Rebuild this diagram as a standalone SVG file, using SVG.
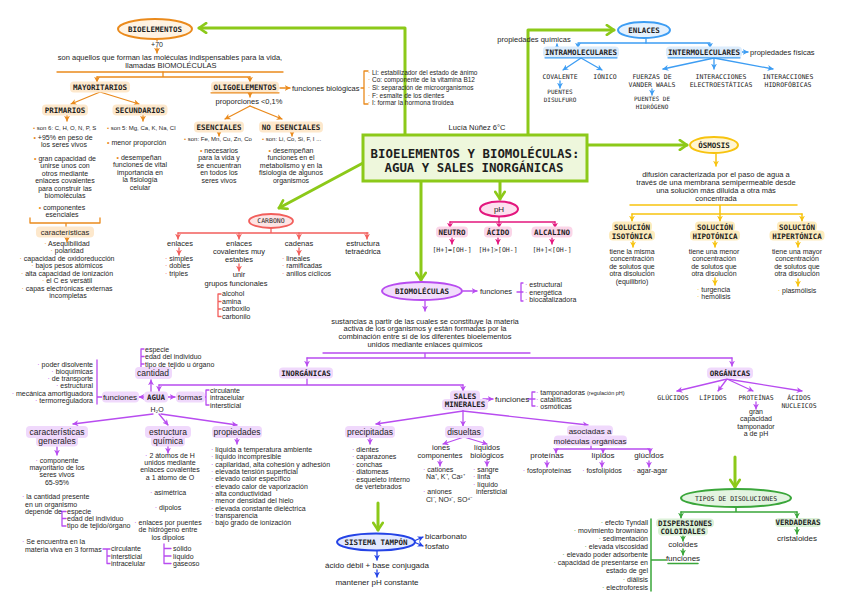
<svg xmlns="http://www.w3.org/2000/svg" width="848" height="600" viewBox="0 0 848 600">
<style>
.t{font-family:"Liberation Sans",Arial,sans-serif;font-size:7px;fill:#1e1e1e}
.s6{font-size:6px}
.s65{font-size:6.5px}
.s75{font-size:7.5px}
.s8{font-size:8px}
.h{font-size:8.5px}
.k{font-family:"DejaVu Sans Mono",monospace;font-weight:bold;font-size:7.5px;fill:#1e1e1e}
.q{font-family:"DejaVu Sans Mono",monospace;font-size:6.5px;fill:#1e1e1e}
.qs{font-size:6px}
.ttl{font-family:"DejaVu Sans Mono",monospace;font-weight:bold;font-size:12.4px;fill:#1e1e1e}
.m{text-anchor:middle}
.e{text-anchor:end}
.lo,.lg,.lb,.ly,.lp,.lr,.lv,.ld,.le{fill:none;stroke-linecap:round;stroke-linejoin:round}
.lo{stroke:#ea8a1c;stroke-width:1.3}
.lg{stroke:#8cc919;stroke-width:3}
.lb{stroke:#3d9df3;stroke-width:1.3}
.ly{stroke:#f7c30f;stroke-width:1.5}
.lp{stroke:#e3177e;stroke-width:1.3}
.lr{stroke:#f25f5c;stroke-width:1.3}
.lv{stroke:#b84cf0;stroke-width:1.3}
.ld{stroke:#2443e6;stroke-width:1.3}
.le{stroke:#3aa63a;stroke-width:1.5}
.hO{fill:#fde8cc}.hB{fill:#dcecfc}.hY{fill:#fdecbd}.hP{fill:#fbd5e8}.hV{fill:#f0d9fc}.hE{fill:#dcf1d8}
.bO{fill:#ea8a1c}.bB{fill:#3d9df3}.bY{fill:#f7c30f}.bP{fill:#e3177e}.bR{fill:#f25f5c}.bV{fill:#b84cf0}.bE{fill:#3aa63a}
</style>
<defs>
<marker id="mO" viewBox="0 0 10 10" refX="9" refY="5" markerWidth="6" markerHeight="6" markerUnits="userSpaceOnUse" orient="auto"><path d="M0,0 L10,5 L0,10 L3,5 Z" fill="#ea8a1c"/></marker>
<marker id="mB" viewBox="0 0 10 10" refX="9" refY="5" markerWidth="6" markerHeight="6" markerUnits="userSpaceOnUse" orient="auto"><path d="M0,0 L10,5 L0,10 L3,5 Z" fill="#3d9df3"/></marker>
<marker id="mY" viewBox="0 0 10 10" refX="9" refY="5" markerWidth="6" markerHeight="6" markerUnits="userSpaceOnUse" orient="auto"><path d="M0,0 L10,5 L0,10 L3,5 Z" fill="#f7c30f"/></marker>
<marker id="mP" viewBox="0 0 10 10" refX="9" refY="5" markerWidth="6" markerHeight="6" markerUnits="userSpaceOnUse" orient="auto"><path d="M0,0 L10,5 L0,10 L3,5 Z" fill="#e3177e"/></marker>
<marker id="mR" viewBox="0 0 10 10" refX="9" refY="5" markerWidth="6" markerHeight="6" markerUnits="userSpaceOnUse" orient="auto"><path d="M0,0 L10,5 L0,10 L3,5 Z" fill="#f25f5c"/></marker>
<marker id="mV" viewBox="0 0 10 10" refX="9" refY="5" markerWidth="6" markerHeight="6" markerUnits="userSpaceOnUse" orient="auto"><path d="M0,0 L10,5 L0,10 L3,5 Z" fill="#b84cf0"/></marker>
<marker id="mD" viewBox="0 0 10 10" refX="9" refY="5" markerWidth="6" markerHeight="6" markerUnits="userSpaceOnUse" orient="auto"><path d="M0,0 L10,5 L0,10 L3,5 Z" fill="#2443e6"/></marker>
<marker id="mE" viewBox="0 0 10 10" refX="9" refY="5" markerWidth="6" markerHeight="6" markerUnits="userSpaceOnUse" orient="auto"><path d="M0,0 L10,5 L0,10 L3,5 Z" fill="#3aa63a"/></marker>
<marker id="mG" viewBox="0 0 10 10" refX="8" refY="5" markerWidth="12" markerHeight="12" markerUnits="userSpaceOnUse" orient="auto"><path d="M2,1 L8,5 L2,9" fill="none" stroke="#8cc919" stroke-width="2.2" stroke-linecap="round" stroke-linejoin="round"/></marker>
</defs>
<rect width="848" height="600" fill="#ffffff"/>

<g id="connectors">
<path class="lo" d="M157,39 V41"/>
<path class="lo" d="M157,48 V53" marker-end="url(#mO)"/>
<path class="lo" d="M57,72 H283"/>
<path class="lo" d="M163,72 V77 M97,77 H250"/>
<path class="lo" d="M97,77 V82" marker-end="url(#mO)"/>
<path class="lo" d="M250,77 V82" marker-end="url(#mO)"/>
<path class="lo" d="M100,92 L71,104" marker-end="url(#mO)"/>
<path class="lo" d="M100,92 L139,104" marker-end="url(#mO)"/>
<path class="lo" d="M67,115 V121" marker-end="url(#mO)"/>
<path class="lo" d="M143,115 V121" marker-end="url(#mO)"/>
<path class="lo" d="M30,218 V223 H100 V218 M66,223 V227"/>
<path class="lo" d="M67,237 V242" marker-end="url(#mO)"/>
<path class="lo" d="M280,88 H290" marker-end="url(#mO)"/>
<path class="lo" d="M361,88 H364 M368,71 H364 V104 H368"/>
<path class="lo" d="M250,91 V97" marker-end="url(#mO)"/>
<path class="lo" d="M250,106 L225,119" marker-end="url(#mO)"/>
<path class="lo" d="M250,106 L282,119" marker-end="url(#mO)"/>
<path class="lo" d="M219,131 V136" marker-end="url(#mO)"/>
<path class="lo" d="M292,131 V136" marker-end="url(#mO)"/>
<path class="lg" d="M405,135 V28 H199" marker-end="url(#mG)"/>
<path class="lg" d="M528,135 V30 H614" marker-end="url(#mG)"/>
<path class="lg" d="M587,145 H687" marker-end="url(#mG)"/>
<path class="lg" d="M500,181 V199" marker-end="url(#mG)"/>
<path class="lg" d="M421,181 V280" marker-end="url(#mG)"/>
<path class="lg" d="M363,163 L279,208" marker-end="url(#mG)"/>
<path class="lg" d="M378,503 V530" marker-end="url(#mG)"/>
<path class="lg" d="M735,457 V487" marker-end="url(#mG)"/>
<path class="lb" d="M646,38 V43 H578 V48" marker-end="url(#mB)"/>
<path class="lb" d="M646,43 H710 V48" marker-end="url(#mB)"/>
<path class="lb" d="M557,49 V44" marker-end="url(#mB)"/>
<path class="lb" d="M741,52 H748" marker-end="url(#mB)"/>
<path class="lb" d="M581,58 L563,70" marker-end="url(#mB)"/>
<path class="lb" d="M581,58 L602,70" marker-end="url(#mB)"/>
<path class="lb" d="M560,81 V88" marker-end="url(#mB)"/>
<path class="lb" d="M714,58 L663,69" marker-end="url(#mB)"/>
<path class="lb" d="M714,58 V69" marker-end="url(#mB)"/>
<path class="lb" d="M714,58 L773,69" marker-end="url(#mB)"/>
<path class="lb" d="M652,89 V95" marker-end="url(#mB)"/>
<path class="ly" d="M716,154 V166" marker-end="url(#mY)"/>
<path class="ly" d="M630,205 H797 M720,205 V214 M632,214 H802"/>
<path class="ly" d="M632,214 V221" marker-end="url(#mY)"/>
<path class="ly" d="M720,214 V221" marker-end="url(#mY)"/>
<path class="ly" d="M802,214 V221" marker-end="url(#mY)"/>
<path class="ly" d="M633,241 V247" marker-end="url(#mY)"/>
<path class="ly" d="M715,241 V247" marker-end="url(#mY)"/>
<path class="ly" d="M798,241 V247" marker-end="url(#mY)"/>
<path class="ly" d="M715,278 V285" marker-end="url(#mY)"/>
<path class="ly" d="M798,279 V286" marker-end="url(#mY)"/>
<path class="lp" d="M499,217 V222 M450,222 H555"/>
<path class="lp" d="M450,222 V228" marker-end="url(#mP)"/>
<path class="lp" d="M499,222 V228" marker-end="url(#mP)"/>
<path class="lp" d="M555,222 V228" marker-end="url(#mP)"/>
<path class="lp" d="M452,238 V244" marker-end="url(#mP)"/>
<path class="lp" d="M498,238 V244" marker-end="url(#mP)"/>
<path class="lp" d="M552,238 V244" marker-end="url(#mP)"/>
<path class="lr" d="M271,228 V233 M178,233 H368"/>
<path class="lr" d="M178,233 V239" marker-end="url(#mR)"/>
<path class="lr" d="M239,233 V239" marker-end="url(#mR)"/>
<path class="lr" d="M299,233 V239" marker-end="url(#mR)"/>
<path class="lr" d="M367,233 V239" marker-end="url(#mR)"/>
<path class="lr" d="M179,248 V255" marker-end="url(#mR)"/>
<path class="lr" d="M239,264 V271" marker-end="url(#mR)"/>
<path class="lr" d="M299,248 V255" marker-end="url(#mR)"/>
<path class="lr" d="M221,294 H218 V316.5 H221 M218,301.5 H221 M218,309 H221"/>
<path class="lv" d="M463,291 H477" marker-end="url(#mV)"/>
<path class="lv" d="M517,292 H521 M523,283 H521 V301 H523 M521,292 H523"/>
<path class="lv" d="M425,301 V311" marker-end="url(#mV)"/>
<path class="lv" d="M323,353 H530 M425,353 V358 M307,358 H732"/>
<path class="lv" d="M307,358 V366" marker-end="url(#mV)"/>
<path class="lv" d="M732,358 V366" marker-end="url(#mV)"/>
<path class="lv" d="M727,379 L677,391" marker-end="url(#mV)"/>
<path class="lv" d="M727,379 L718,391" marker-end="url(#mV)"/>
<path class="lv" d="M727,379 L753,391" marker-end="url(#mV)"/>
<path class="lv" d="M727,379 L802,391" marker-end="url(#mV)"/>
<path class="lv" d="M756,402 V409" marker-end="url(#mV)"/>
<path class="lv" d="M307,379 V385 M159,385 H463"/>
<path class="lv" d="M159,385 V391" marker-end="url(#mV)"/>
<path class="lv" d="M463,385 V391" marker-end="url(#mV)"/>
<path class="lv" d="M151,392 V380" marker-end="url(#mV)"/>
<path class="lv" d="M144,349 H141 V368 M141,356.5 H144 M141,364 H144"/>
<path class="lv" d="M146,397 H139" marker-end="url(#mV)"/>
<path class="lv" d="M97,360 V404 M97,397 H102"/>
<path class="lv" d="M166,397 H175" marker-end="url(#mV)"/>
<path class="lv" d="M204,397 H206 M209,390 H206 V405 H209"/>
<path class="lv" d="M153,414 L73,424" marker-end="url(#mV)"/>
<path class="lv" d="M159,414 L168,425" marker-end="url(#mV)"/>
<path class="lv" d="M161,414 L237,425" marker-end="url(#mV)"/>
<path class="lv" d="M57,447 V455" marker-end="url(#mV)"/>
<path class="lv" d="M61,511.5 H66 M62,511.5 V526 H66 M62,518.5 H66"/>
<path class="lv" d="M103,549 H110 M107,549 V563.5 H110 M107,556 H110"/>
<path class="lv" d="M168,446 V453" marker-end="url(#mV)"/>
<path class="lv" d="M164,544 V563.5 H171 M164,548.5 H171 M164,556 H171"/>
<path class="lv" d="M237,437 V444" marker-end="url(#mV)"/>
<path class="lv" d="M483,399 H493" marker-end="url(#mV)"/>
<path class="lv" d="M528,399 H532 M535,392 H532 V406 H535 M532,399 H535"/>
<path class="lv" d="M463,411 L376,424" marker-end="url(#mV)"/>
<path class="lv" d="M463,411 V426" marker-end="url(#mV)"/>
<path class="lv" d="M463,411 L588,425" marker-end="url(#mV)"/>
<path class="lv" d="M370,437 V444" marker-end="url(#mV)"/>
<path class="lv" d="M464,437 L443,444" marker-end="url(#mV)"/>
<path class="lv" d="M464,437 L487,444" marker-end="url(#mV)"/>
<path class="lv" d="M440,460 V466" marker-end="url(#mV)"/>
<path class="lv" d="M487,460 V466" marker-end="url(#mV)"/>
<path class="lv" d="M591,446 V449 M556,449 H650"/>
<path class="lv" d="M556,449 V453" marker-end="url(#mV)"/>
<path class="lv" d="M603,449 V453" marker-end="url(#mV)"/>
<path class="lv" d="M650,449 V453" marker-end="url(#mV)"/>
<path class="lv" d="M547,461 V467" marker-end="url(#mV)"/>
<path class="lv" d="M602,461 V467" marker-end="url(#mV)"/>
<path class="lv" d="M649,461 V467" marker-end="url(#mV)"/>
<path class="ld" d="M414,541 L423,537" marker-end="url(#mD)"/>
<path class="ld" d="M414,542 L423,546" marker-end="url(#mD)"/>
<path class="ld" d="M377,551 V560" marker-end="url(#mD)"/>
<path class="ld" d="M377,570 V577" marker-end="url(#mD)"/>
<path class="le" d="M736,507 V512 M681,512 H797"/>
<path class="le" d="M681,512 V518" marker-end="url(#mE)"/>
<path class="le" d="M797,512 V518" marker-end="url(#mE)"/>
<path class="le" d="M683,536 V541" marker-end="url(#mE)"/>
<path class="le" d="M683,549 V555" marker-end="url(#mE)"/>
<path class="le" d="M797,527 V534" marker-end="url(#mE)"/>
<path class="le" d="M651,519 V591 M651,560 H666"/>
</g>

<g id="bioelementos">
<ellipse cx="155" cy="29" rx="37" ry="10" fill="#fff3e3" stroke="#ea8a1c" stroke-width="2"/>
<text class="k m" x="155" y="31.7">BIOELEMENTOS</text>
<text class="t m" x="157" y="46.5">+70</text>
<text class="t m s75" x="170" y="59.5">son aquellos que forman las moléculas indispensables para la vida,</text>
<text class="t m s75" x="171" y="67.5">llamadas BIOMOLÉCULAS</text>
</g>

<g id="mayoritarios">
<rect class="hO" x="70" y="81.5" width="60" height="11" rx="4"/>
<text class="k m" x="100" y="90">MAYORITARIOS</text>
</g>

<g id="primarios">
<rect class="hO" x="42" y="104.5" width="46" height="11" rx="4"/>
<text class="k m" x="65" y="113">PRIMARIOS</text>
<text class="t s6" x="33" y="129.5"><tspan class="bO">•</tspan> son 6: C, H, O, N, P, S</text>
<text class="t m" x="63" y="139.5"><tspan class="bO">•</tspan> +95% en peso de</text>
<text class="t m" x="64" y="147">los seres vivos</text>
<text class="t m" x="65" y="160.5"><tspan class="bO">•</tspan> gran capacidad de</text>
<text class="t m" x="65" y="168">unirse unos con</text>
<text class="t m" x="65" y="175.5">otros mediante</text>
<text class="t m" x="65" y="183">enlaces covalentes</text>
<text class="t m" x="65" y="190.5">para construir las</text>
<text class="t m" x="65" y="198">biomoléculas</text>
<text class="t m" x="62" y="209.5"><tspan class="bO">•</tspan> componentes</text>
<text class="t m" x="62" y="217">esenciales</text>
</g>

<g id="caracteristicas-bioelementos">
<rect class="hO" x="36" y="226.5" width="58" height="11" rx="4"/>
<text class="t m s75" x="65" y="234.8">características</text>
<text class="t m" x="67" y="245.5"><tspan class="bO">·</tspan> Asequibilidad</text>
<text class="t m" x="67" y="253"><tspan class="bO">·</tspan> polaridad</text>
<text class="t m" x="67" y="260.5"><tspan class="bO">·</tspan> capacidad de oxidoreducción</text>
<text class="t m" x="67" y="268"><tspan class="bO">·</tspan> bajos pesos atómicos</text>
<text class="t m" x="67" y="275.5"><tspan class="bO">·</tspan> alta capacidad de ionización</text>
<text class="t m" x="67" y="283"><tspan class="bO">·</tspan> el C es versátil</text>
<text class="t m" x="67" y="290.5"><tspan class="bO">·</tspan> capas electrónicas externas</text>
<text class="t m" x="68" y="298">incompletas</text>
</g>

<g id="secundarios">
<rect class="hO" x="112.5" y="104.5" width="55" height="11" rx="4"/>
<text class="k m" x="140" y="113">SECUNDARIOS</text>
<text class="t s6" x="107" y="129.5"><tspan class="bO">•</tspan> son 5: Mg, Ca, K, Na, Cl</text>
<text class="t" x="107" y="144.5"><tspan class="bO">•</tspan>  menor proporción</text>
<text class="t m" x="139" y="159.5"><tspan class="bO">•</tspan> desempeñan</text>
<text class="t m" x="140" y="167">funciones de vital</text>
<text class="t m" x="140" y="174.5">importancia en</text>
<text class="t m" x="140" y="182">la fisiología</text>
<text class="t m" x="140" y="189.5">celular</text>
</g>

<g id="oligoelementos">
<rect class="hO" x="211" y="81.5" width="68" height="11" rx="4"/>
<path class="lo" d="M211,92.8 H279"/>
<text class="k m" x="245" y="90">OLIGOELEMENTOS</text>
<text class="t m s75" x="249" y="104">proporciones &lt;0,1%</text>
<text class="t s75" x="292" y="90.5">funciones biológicas</text>
<text class="t s65" x="368" y="74.5"><tspan class="bO">·</tspan> Li: estabilizador del estado de ánimo</text>
<text class="t s65" x="368" y="82"><tspan class="bO">·</tspan> Co: componente de la vitamina B12</text>
<text class="t s65" x="368" y="90"><tspan class="bO">·</tspan> Si: separación de microorganismos</text>
<text class="t s65" x="368" y="97.5"><tspan class="bO">·</tspan> F: esmalte de los dientes</text>
<text class="t s65" x="368" y="105"><tspan class="bO">·</tspan> I: formar la hormona tiroidea</text>
</g>

<g id="esenciales">
<rect class="hO" x="194" y="121.5" width="50" height="11" rx="4"/>
<text class="k m" x="219" y="130">ESENCIALES</text>
<text class="t s6" x="184" y="140.5"><tspan class="bO">•</tspan> son: Fe, Mn, Cu, Zn, Co</text>
<text class="t m" x="219" y="152.5"><tspan class="bO">•</tspan> necesarios</text>
<text class="t m" x="219" y="160">para la vida y</text>
<text class="t m" x="219" y="167.5">se encuentran</text>
<text class="t m" x="219" y="175">en todos los</text>
<text class="t m" x="219" y="182.5">seres vivos</text>
</g>

<g id="no-esenciales">
<rect class="hO" x="259" y="121.5" width="64" height="11" rx="4"/>
<text class="k m" x="291" y="130">NO ESENCIALES</text>
<text class="t s6" x="262" y="140.5"><tspan class="bO">•</tspan> son: Li, Co, Si, F, I ...</text>
<text class="t m" x="291" y="152.5"><tspan class="bO">•</tspan> desempeñan</text>
<text class="t m" x="291" y="160">funciones en el</text>
<text class="t m" x="291" y="167.5">metabolismo y en la</text>
<text class="t m" x="291" y="175">fisiología de algunos</text>
<text class="t m" x="291" y="182.5">organismos</text>
</g>

<g id="titulo">
<rect x="363" y="135" width="224" height="46" fill="#eef7dc" stroke="#8cc919" stroke-width="3"/>
<text class="ttl m" x="475" y="157.5">BIOELEMENTOS Y BIOMOLÉCULAS:</text>
<text class="ttl m" x="474" y="171.5">AGUA Y SALES INORGÁNICAS</text>
<text class="t m s75" x="477" y="129.5">Lucía Núñez 6°C</text>
</g>

<g id="enlaces">
<ellipse cx="644" cy="30" rx="26" ry="8" fill="#e4f1fe" stroke="#3d9df3" stroke-width="2"/>
<text class="k m" x="644" y="32.7">ENLACES</text>
<text class="t m s75" x="534" y="42">propiedades químicas</text>
</g>

<g id="intramoleculares">
<rect class="hB" x="543" y="46.5" width="76" height="11" rx="4"/>
<path class="lb" d="M545,57.8 H617"/>
<text class="k m" x="581" y="55">INTRAMOLECULARES</text>
<text class="q m" x="560" y="78.5">COVALENTE</text>
<text class="q m" x="605" y="78.5">IÓNICO</text>
<text class="q qs m" x="560" y="94">PUENTES</text>
<text class="q qs m" x="560" y="101.5">DISULFURO</text>
</g>

<g id="intermoleculares">
<rect class="hB" x="666" y="46.5" width="76" height="11" rx="4"/>
<path class="lb" d="M668,57.8 H740"/>
<text class="k m" x="704" y="55">INTERMOLECULARES</text>
<text class="t s75" x="750" y="54.5">propiedades físicas</text>
<text class="q m" x="652" y="78.5">FUERZAS DE</text>
<text class="q m" x="652" y="86.5">VANDER WAALS</text>
<text class="q qs m" x="652" y="101">PUENTES DE</text>
<text class="q qs m" x="652" y="108.5">HIDRÓGENO</text>
<text class="q m" x="721" y="78.5">INTERACCIONES</text>
<text class="q m" x="721" y="86.5">ELECTROESTÁTICAS</text>
<text class="q m" x="788" y="78.5">INTERACCIONES</text>
<text class="q m" x="788" y="86.5">HIDROFÓBICAS</text>
</g>

<g id="osmosis">
<ellipse cx="714" cy="145" rx="24" ry="8" fill="#fff5d2" stroke="#f7c30f" stroke-width="2"/>
<text class="k m" x="714" y="147.7">ÓSMOSIS</text>
<text class="t m s75" x="716" y="176.5">difusión caracterizada por el paso de agua a</text>
<text class="t m s75" x="716" y="185">través de una membrana semipermeable desde</text>
<text class="t m s75" x="716" y="193">una solución más diluida a otra más</text>
<text class="t m s75" x="716" y="201">concentrada</text>
</g>

<g id="isotonica">
<rect class="hY" x="612" y="221.5" width="40" height="10" rx="4"/>
<rect class="hY" x="609" y="230.5" width="46" height="10" rx="4"/>
<text class="k m" x="632" y="229.8">SOLUCIÓN</text>
<text class="k m" x="632" y="238.8">ISOTÓNICA</text>
<text class="t m" x="632" y="253.5">tiene la misma</text>
<text class="t m" x="632" y="261">concentración</text>
<text class="t m" x="632" y="268.5">de solutos que</text>
<text class="t m" x="632" y="276">otra disolución</text>
<text class="t m" x="632" y="283.5">(equilibrio)</text>
</g>

<g id="hipotonica">
<rect class="hY" x="695" y="221.5" width="40" height="10" rx="4"/>
<rect class="hY" x="690" y="230.5" width="50" height="10" rx="4"/>
<text class="k m" x="715" y="229.8">SOLUCIÓN</text>
<text class="k m" x="715" y="238.8">HIPOTÓNICA</text>
<text class="t m" x="714" y="253.5">tiene una menor</text>
<text class="t m" x="714" y="261">concentración</text>
<text class="t m" x="714" y="268.5">de solutos que</text>
<text class="t m" x="714" y="276">otra disolución</text>
<text class="t" x="697" y="291.5"><tspan class="bY">·</tspan> turgencia</text>
<text class="t" x="697" y="299"><tspan class="bY">·</tspan> hemólisis</text>
</g>

<g id="hipertonica">
<rect class="hY" x="777" y="221.5" width="40" height="10" rx="4"/>
<rect class="hY" x="769.5" y="230.5" width="55" height="10" rx="4"/>
<text class="k m" x="797" y="229.8">SOLUCIÓN</text>
<text class="k m" x="797" y="238.8">HIPERTÓNICA</text>
<text class="t m" x="797" y="253.5">tiene una mayor</text>
<text class="t m" x="797" y="261">concentración</text>
<text class="t m" x="797" y="268.5">de solutos que</text>
<text class="t m" x="797" y="276">otra disolución</text>
<text class="t m" x="797" y="292.5"><tspan class="bY">·</tspan> plasmólisis</text>
</g>

<g id="ph">
<ellipse cx="499" cy="209" rx="19" ry="7.5" fill="#fde0ef" stroke="#e3177e" stroke-width="2"/>
<text class="t m s8" x="499" y="211.8">pH</text>
<rect class="hP" x="436" y="226.5" width="32" height="11" rx="4"/>
<text class="k m" x="452" y="234.8">NEUTRO</text>
<rect class="hP" x="484" y="226.5" width="28" height="11" rx="4"/>
<text class="k m" x="498" y="234.8">ÁCIDO</text>
<rect class="hP" x="531.5" y="226.5" width="41" height="11" rx="4"/>
<text class="k m" x="552" y="234.8">ALCALINO</text>
<text class="q m" x="452" y="251.5">[H+]=[OH-]</text>
<text class="q m" x="498" y="251.5">[H+]&gt;[OH-]</text>
<text class="q m" x="552" y="251.5">[H+]&lt;[OH-]</text>
</g>

<g id="carbono">
<ellipse cx="271" cy="221" rx="22" ry="7" fill="#fde4e4" stroke="#f25f5c" stroke-width="1.8"/>
<text class="q m" x="271" y="223.3">CARBONO</text>
<text class="t m s75" x="180" y="245.5">enlaces</text>
<text class="t" x="165" y="260.5"><tspan class="bR">·</tspan> simples</text>
<text class="t" x="165" y="268"><tspan class="bR">·</tspan> dobles</text>
<text class="t" x="165" y="275.5"><tspan class="bR">·</tspan> triples</text>
<text class="t m s75" x="239" y="245.5">enlaces</text>
<text class="t m s75" x="239" y="253.5">covalentes muy</text>
<text class="t m s75" x="239" y="262">estables</text>
<text class="t m s75" x="239" y="277">unir</text>
<text class="t m s75" x="236" y="286">grupos funcionales</text>
<text class="t" x="222" y="296">alcohol</text>
<text class="t" x="222" y="303.5">amina</text>
<text class="t" x="222" y="311">carboxilo</text>
<text class="t" x="222" y="318.5">carbonilo</text>
<text class="t m s75" x="299" y="245.5">cadenas</text>
<text class="t" x="282" y="260.5"><tspan class="bR">·</tspan> lineales</text>
<text class="t" x="282" y="268"><tspan class="bR">·</tspan> ramificadas</text>
<text class="t" x="282" y="275.5"><tspan class="bR">·</tspan> anillos cíclicos</text>
<text class="t m s75" x="363" y="245.5">estructura</text>
<text class="t m s75" x="363" y="253.5">tetraédrica</text>
</g>

<g id="biomoleculas">
<ellipse cx="422" cy="291" rx="40" ry="9" fill="#f2ddfc" stroke="#b84cf0" stroke-width="2"/>
<text class="k m" x="422" y="293.8">BIOMOLÉCULAS</text>
<text class="t s75" x="480" y="293.8">funciones</text>
<text class="t" x="525" y="287"><tspan class="bV">·</tspan> estructural</text>
<text class="t" x="525" y="294.5"><tspan class="bV">·</tspan> energética</text>
<text class="t" x="525" y="302"><tspan class="bV">·</tspan> biocatalizadora</text>
<text class="t m s75" x="425" y="323.5">sustancias a partir de las cuales se constituye la materia</text>
<text class="t m s75" x="425" y="331">activa de los organismos y están formadas por la</text>
<text class="t m s75" x="425" y="339">combinación entre sí de los diferentes bioelementos</text>
<text class="t m s75" x="425" y="347">unidos mediante enlaces químicos</text>
</g>

<g id="inorganicas">
<rect class="hV" x="279" y="367.5" width="54" height="11" rx="4"/>
<text class="k m" x="306" y="375.8">INORGÁNICAS</text>
</g>

<g id="organicas">
<rect class="hV" x="707" y="367.5" width="46" height="11" rx="4"/>
<text class="k m" x="730" y="375.8">ORGÁNICAS</text>
<text class="q m" x="673" y="399.5">GLÚCIDOS</text>
<text class="q m" x="713" y="399.5">LÍPIDOS</text>
<text class="q m" x="756" y="399.5">PROTEÍNAS</text>
<text class="q m" x="799" y="399.5">ÁCIDOS</text>
<text class="q m" x="799" y="408">NUCLEICOS</text>
<text class="t m" x="756" y="413.5">gran</text>
<text class="t m" x="756" y="421">capacidad</text>
<text class="t m" x="756" y="428.5">tamponador</text>
<text class="t m" x="756" y="436">a de pH</text>
</g>

<g id="agua">
<rect class="hV" x="144" y="391.5" width="24" height="11" rx="4"/>
<text class="k m" x="156" y="400">AGUA</text>
<text class="t m" x="157" y="411.5">H₂O</text>
<rect class="hV" x="135" y="367" width="37" height="12" rx="4"/>
<text class="t h m" x="153" y="376">cantidad</text>
<text class="t" x="145" y="351.5">especie</text>
<text class="t" x="145" y="359">edad del individuo</text>
<text class="t" x="145" y="366.5">tipo de tejido u órgano</text>
<rect class="hV" x="102" y="391.5" width="37" height="11" rx="4"/>
<text class="t s8 m" x="120" y="400">funciones</text>
<text class="t e" x="93" y="366.5"><tspan class="bV">·</tspan> poder disolvente</text>
<text class="t e" x="93" y="373.5"><tspan class="bV">·</tspan> bioquímicas</text>
<text class="t e" x="93" y="380.5"><tspan class="bV">·</tspan> de transporte</text>
<text class="t e" x="93" y="388"><tspan class="bV">·</tspan> estructural</text>
<text class="t e" x="93" y="395.5"><tspan class="bV">·</tspan> mecánica amortiguadora</text>
<text class="t e" x="93" y="403"><tspan class="bV">·</tspan> termorreguladora</text>
<rect class="hV" x="176" y="391.5" width="29" height="11" rx="4"/>
<text class="t s8 m" x="190" y="400">formas</text>
<text class="t" x="210" y="392.5">circulante</text>
<text class="t" x="210" y="400">intracelular</text>
<text class="t" x="210" y="407.5">intersticial</text>
</g>

<g id="caracteristicas-generales">
<rect class="hV" x="26" y="426" width="62" height="12" rx="4"/>
<rect class="hV" x="36" y="435.5" width="42" height="11" rx="4"/>
<text class="t h m" x="57" y="435">características</text>
<text class="t h m" x="57" y="444">generales</text>
<text class="t m" x="57" y="462.5"><tspan class="bV">·</tspan> componente</text>
<text class="t m" x="57" y="469.5">mayoritario de los</text>
<text class="t m" x="57" y="477">seres vivos</text>
<text class="t m" x="57" y="484.5">65-95%</text>
<text class="t" x="22" y="499"><tspan class="bV">·</tspan> la cantidad presente</text>
<text class="t" x="25" y="506.5">en un organismo</text>
<text class="t" x="25" y="514">depende de</text>
<text class="t" x="67" y="513.5">especie</text>
<text class="t" x="67" y="520.5">edad del individuo</text>
<text class="t" x="67" y="528">tipo de tejido/órgano</text>
<text class="t" x="22" y="543.5"><tspan class="bV">·</tspan> Se encuentra en la</text>
<text class="t" x="25" y="551.5">materia viva en 3 formas</text>
<text class="t" x="111" y="551">circulante</text>
<text class="t" x="111" y="558.5">intersticial</text>
<text class="t" x="111" y="566">intracelular</text>
</g>

<g id="estructura-quimica">
<rect class="hV" x="145" y="426" width="46" height="12" rx="4"/>
<rect class="hV" x="151" y="435.5" width="34" height="11" rx="4"/>
<text class="t h m" x="168" y="435">estructura</text>
<text class="t h m" x="168" y="444">química</text>
<text class="t m" x="170" y="457.5"><tspan class="bV">·</tspan> 2 átomos de H</text>
<text class="t m" x="170" y="464.5">unidos mediante</text>
<text class="t m" x="170" y="472">enlaces covalentes</text>
<text class="t m" x="170" y="480">a 1 átomo de O</text>
<text class="t m" x="168" y="494.5"><tspan class="bV">·</tspan> asimétrica</text>
<text class="t m" x="168" y="509.5"><tspan class="bV">·</tspan> dipolos</text>
<text class="t m" x="168" y="524.5"><tspan class="bV">·</tspan> enlaces por puentes</text>
<text class="t m" x="168" y="531.5">de hidrógeno entre</text>
<text class="t m" x="168" y="539.5">los dipolos</text>
<text class="t" x="173" y="551">sólido</text>
<text class="t" x="173" y="558.5">líquido</text>
<text class="t" x="173" y="566">gaseoso</text>
</g>

<g id="propiedades">
<rect class="hV" x="212" y="426" width="50" height="12" rx="4"/>
<text class="t h m" x="237" y="435">propiedades</text>
<text class="t" x="211" y="451.5"><tspan class="bV">·</tspan> líquida a temperatura ambiente</text>
<text class="t" x="211" y="459"><tspan class="bV">·</tspan> líquido incompresible</text>
<text class="t" x="211" y="466.5"><tspan class="bV">·</tspan> capilaridad, alta cohesión y adhesión</text>
<text class="t" x="211" y="473.5"><tspan class="bV">·</tspan> elevada tensión superficial</text>
<text class="t" x="211" y="481"><tspan class="bV">·</tspan> elevado calor específico</text>
<text class="t" x="211" y="488.5"><tspan class="bV">·</tspan> elevado calor de vaporización</text>
<text class="t" x="211" y="495.5"><tspan class="bV">·</tspan> alta conductividad</text>
<text class="t" x="211" y="503"><tspan class="bV">·</tspan> menor densidad del hielo</text>
<text class="t" x="211" y="510.5"><tspan class="bV">·</tspan> elevada constante dieléctrica</text>
<text class="t" x="211" y="517.5"><tspan class="bV">·</tspan> transparencia</text>
<text class="t" x="211" y="525"><tspan class="bV">·</tspan> bajo grado de ionización</text>
</g>

<g id="sales-minerales">
<rect class="hV" x="450" y="390.5" width="30" height="11" rx="4"/>
<rect class="hV" x="442" y="399" width="46" height="11" rx="4"/>
<text class="k m" x="465" y="398.8">SALES</text>
<text class="k m" x="465" y="407">MINERALES</text>
<text class="t s8" x="495" y="401.5">funciones</text>
<text class="t" x="536" y="394.5"><tspan class="bV">·</tspan> tamponadoras <tspan font-size="5.5">(regulación pH)</tspan></text>
<text class="t" x="536" y="401.5"><tspan class="bV">·</tspan> catalíticas</text>
<text class="t" x="536" y="408.5"><tspan class="bV">·</tspan> osmóticas</text>
</g>

<g id="precipitadas">
<rect class="hV" x="345" y="426" width="50" height="12" rx="4"/>
<text class="t h m" x="370" y="435">precipitadas</text>
<text class="t" x="352" y="451.5"><tspan class="bV">·</tspan> dientes</text>
<text class="t" x="352" y="458.5"><tspan class="bV">·</tspan> caparazones</text>
<text class="t" x="352" y="466.5"><tspan class="bV">·</tspan> conchas</text>
<text class="t" x="352" y="473.5"><tspan class="bV">·</tspan> diatomeas</text>
<text class="t" x="352" y="481.5"><tspan class="bV">·</tspan> esqueleto interno</text>
<text class="t" x="355" y="488.5">de vertebrados</text>
</g>

<g id="disueltas">
<rect class="hV" x="445" y="426" width="39" height="12" rx="4"/>
<text class="t h m" x="464" y="435">disueltas</text>
<text class="t m s75" x="441" y="449.5">iones</text>
<text class="t m s75" x="440" y="457.5">componentes</text>
<text class="t m s75" x="487" y="449.5">líquidos</text>
<text class="t m s75" x="487" y="457.5">biológicos</text>
<text class="t" x="423" y="471.5"><tspan class="bV">·</tspan> cationes</text>
<text class="t" x="426" y="479">Na⁺, K⁺, Ca²⁺</text>
<text class="t" x="423" y="493.5"><tspan class="bV">·</tspan> aniones</text>
<text class="t" x="426" y="501.5">Cl⁻, NO³⁻, SO⁴⁻</text>
<text class="t" x="473" y="471.5"><tspan class="bV">·</tspan> sangre</text>
<text class="t" x="473" y="478.5"><tspan class="bV">·</tspan> linfa</text>
<text class="t" x="473" y="486.5"><tspan class="bV">·</tspan> líquido</text>
<text class="t" x="476" y="493.5">intersticial</text>
</g>

<g id="asociadas">
<rect class="hV" x="567" y="425.5" width="46" height="10" rx="4"/>
<rect class="hV" x="554" y="435.5" width="73" height="10" rx="4"/>
<text class="t s8 m" x="590" y="433.5">asociadas a</text>
<text class="t s8 m" x="590" y="443.5">moléculas orgánicas</text>
<text class="t s8 m" x="547" y="458">proteínas</text>
<text class="t s8 m" x="603" y="458">lípidos</text>
<text class="t s8 m" x="649" y="458">glúcidos</text>
<text class="t m" x="547" y="472.5"><tspan class="bV">·</tspan> fosfoproteínas</text>
<text class="t m" x="602" y="472.5"><tspan class="bV">·</tspan> fosfolípidos</text>
<text class="t m" x="650" y="472.5"><tspan class="bV">·</tspan> agar-agar</text>
</g>

<g id="sistema-tampon">
<ellipse cx="376" cy="542" rx="39" ry="8.5" fill="#e3e9ff" stroke="#2443e6" stroke-width="2"/>
<text class="k m" x="376" y="544.7">SISTEMA TAMPÓN</text>
<text class="t s8" x="425" y="539">bicarbonato</text>
<text class="t s8" x="425" y="548.5">fosfato</text>
<text class="t s8 m" x="377" y="567.5">ácido débil + base conjugada</text>
<text class="t s8 m" x="377" y="585">mantener pH constante</text>
</g>

<g id="tipos-disoluciones">
<ellipse cx="736" cy="498" rx="55" ry="9" fill="#e3f4e1" stroke="#3aa63a" stroke-width="2"/>
<text class="q m" x="736" y="500.5" font-size="7">TIPOS DE DISOLUCIONES</text>
<rect class="hE" x="656" y="518.5" width="58" height="9" rx="4"/>
<rect class="hE" x="658" y="526.5" width="50" height="9" rx="4"/>
<text class="k m" x="685" y="525.8">DISPERSIONES</text>
<text class="k m" x="683" y="533.8">COLOIDALES</text>
<text class="t s8 m" x="683" y="546.5">coloides</text>
<text class="t s8 m" x="683" y="561">funciones</text>
<path class="le" d="M668,563.5 H698"/>
<rect class="hE" x="775" y="518" width="46" height="9" rx="4"/>
<text class="k m" x="798" y="525">VERDADERAS</text>
<text class="t s8 m" x="797" y="540.5">cristaloides</text>
<text class="t e" x="648" y="524.5"><tspan class="bE">·</tspan> efecto Tyndall</text>
<text class="t e" x="648" y="532.5"><tspan class="bE">·</tspan> movimiento browniano</text>
<text class="t e" x="648" y="540.5"><tspan class="bE">·</tspan> sedimentación</text>
<text class="t e" x="648" y="548.5"><tspan class="bE">·</tspan> elevada viscosidad</text>
<text class="t e" x="648" y="556.5"><tspan class="bE">·</tspan> elevado poder adsorbente</text>
<text class="t e" x="648" y="564.5"><tspan class="bE">·</tspan> capacidad de presentarse en</text>
<text class="t e" x="648" y="573">estado de gel</text>
<text class="t e" x="648" y="581.5"><tspan class="bE">·</tspan> diálisis</text>
<text class="t e" x="648" y="590"><tspan class="bE">·</tspan> electroforesis</text>
</g>
</svg>
